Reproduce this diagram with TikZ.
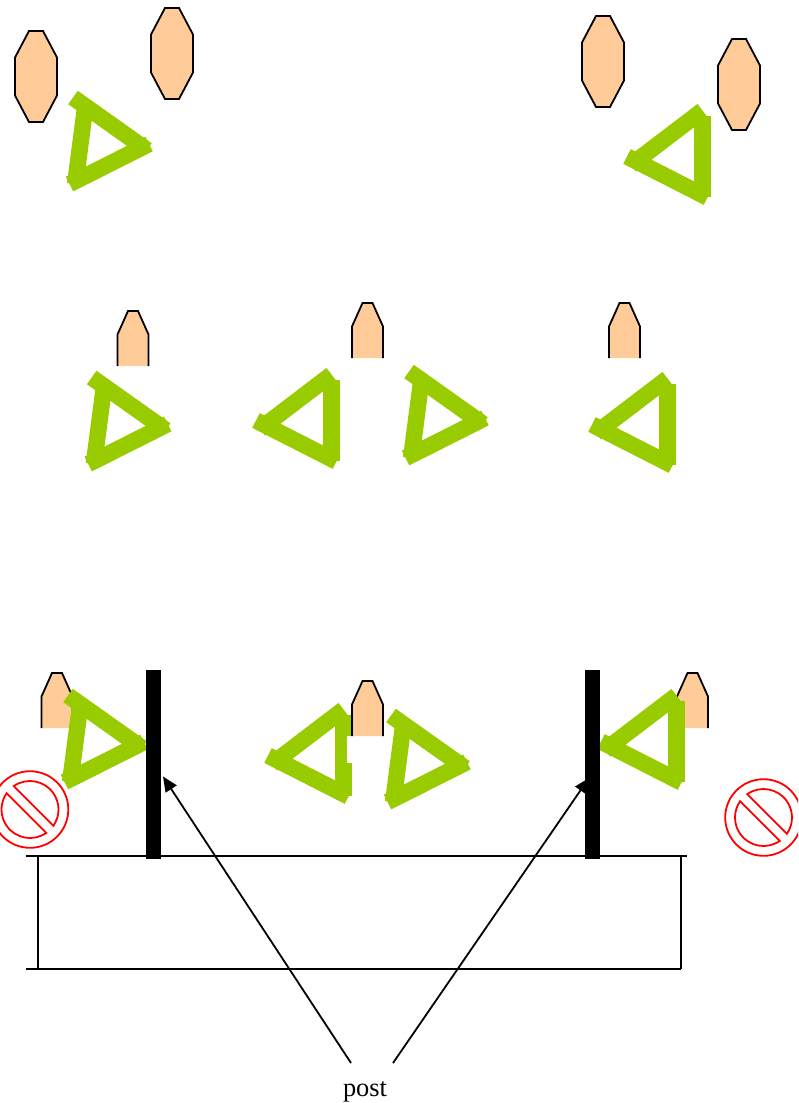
\documentclass[tikz,border=0pt]{standalone}
\usepackage{fontspec}
\setmainfont{Liberation Serif}
\usetikzlibrary{arrows.meta}
\definecolor{peach}{HTML}{FFCC99}
\definecolor{lime}{HTML}{99CC00}
\tikzset{
  skin/.style={fill=peach, draw=black, line width=1.8pt, line join=miter},
  bar/.style={draw=lime, line width=16.5pt},
  rim/.style={draw=red, fill=white, line width=1.8pt},
  line/.style={draw=black, line width=1.8pt},
  ar/.style={-{Triangle[length=15pt,width=13pt]}, line width=1.8pt},
  % player facing right, origin at the tip
  trir/.pic={
    \draw[bar] (-66.4,-46) -- (-76.8,34);
    \draw[bar] (-79,-52.5) -- (-5,0);
    \draw[bar] (-3,-6) -- (-82.5,34);
  },
  % player facing left, origin at the tip
  tril/.pic={
    \draw[bar] (77.5,-46) -- (77.5,35);
    \draw[bar] (77.5,-51.5) -- (6,3);
    \draw[bar] (82.5,35.5) -- (2,-5.5);
  },
  octa/.pic={
    \draw[skin] (-7,-45.5) -- (7,-45.5) -- (21,-19) -- (21,19) -- (7,45.5)
      -- (-7,45.5) -- (-21,19) -- (-21,-19) -- cycle;
  },
  % origin at the middle of the top edge, bottom side left open
  headp/.pic={
    \fill[peach] (-5,0) -- (5,0) -- (15.5,23.5) -- (15.5,55) -- (-15.5,55)
      -- (-15.5,23.5) -- cycle;
    \draw[line width=1.8pt] (-15.5,55) -- (-15.5,23.5) -- (-5,0) -- (5,0)
      -- (15.5,23.5) -- (15.5,55);
  },
  nosign/.pic={
    \begin{scope}[yscale=-1]
      \draw[rim] (0,0) circle (38.3);
      \draw[rim] (124.7:28.5) arc[start angle=124.7, end angle=-34.7, radius=28.5] -- cycle;
      \draw[rim] (-55.3:28.5) arc[start angle=-55.3, end angle=-214.7, radius=28.5] -- cycle;
    \end{scope}
  }
}
\begin{document}
\begin{tikzpicture}[x=1pt, y=-1pt,
  post/.style={fill=black, inner sep=0pt, minimum width=15pt, minimum height=189pt}
]
\clip (0,0) rectangle (798,1103);

% top row
\pic at (36,76.5) {octa};
\pic at (172,53.5) {octa};
\pic at (603,61.5) {octa};
\pic at (739,84.5) {octa};
\pic at (152,150) {trir};
\pic at (625,162) {tril};

% middle row
\pic at (133,311) {headp};
\pic at (367.5,303) {headp};
\pic at (624.5,303) {headp};
\pic at (170.7,430) {trir};
\pic at (254,426) {tril};
\pic at (488,424) {trir};
\pic at (590,430) {tril};

% bottom row
\pic at (57,673) {headp};
\pic at (692.5,673) {headp};
\pic at (147,748) {trir};
\pic at (266,761) {tril};
\pic at (470,768) {trir};
\pic at (599,747) {tril};
\fill[white] (347,736) rectangle (385,763);
\pic at (367.5,681) {headp};

\pic at (30,809.5) {nosign};
\pic at (763.5,817.5) {nosign};

% court
\draw[line] (26,856) -- (687,856);
\draw[line] (26,968.7) -- (681,968.7);
\draw[line] (38,856) -- (38,968.7);
\draw[line] (681,856) -- (681,968.7);
\draw[line width=2.4pt] (59,968.7) -- (88,968.7);

\node[post] (postl) at (153.5,764.5) {};
\node[post] (postr) at (592.2,764) {};

\node[font=\fontsize{26.4}{30}\selectfont, inner sep=0pt] (lbl) at (365,1092) {post};
\coordinate (froml) at (351,1063);
\coordinate (fromr) at (393,1063);
\coordinate (tipl) at (163,776.5);
\coordinate (tipr) at (589,778);
\draw[ar] (froml) -- (tipl);
\draw[ar] (fromr) -- (tipr);
\end{tikzpicture}
\end{document}
